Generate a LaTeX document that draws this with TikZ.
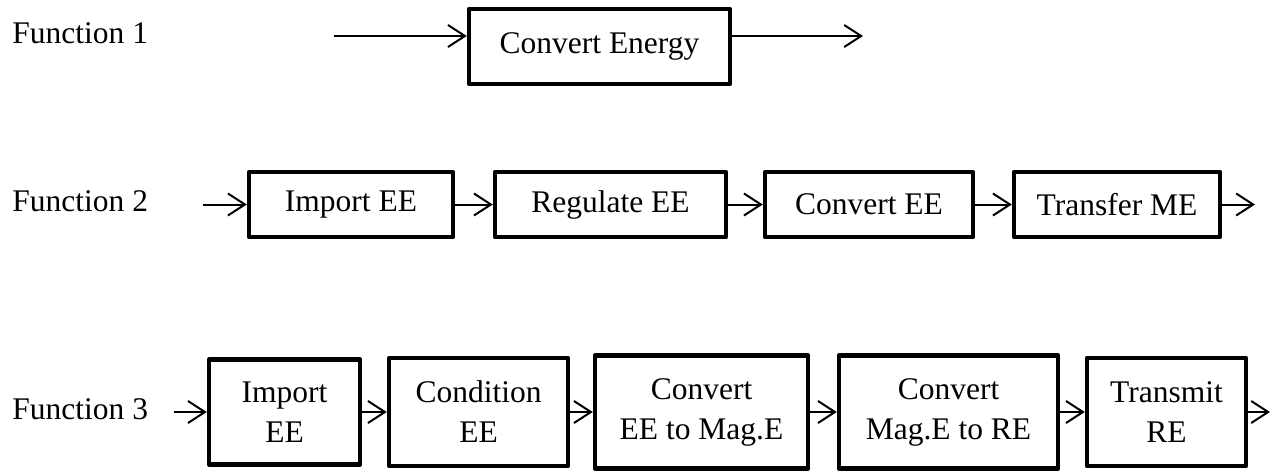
\documentclass[tikz,border=0pt]{standalone}
\usepackage{fontspec}
\setmainfont{Liberation Serif}
\usetikzlibrary{arrows.meta}

\begin{document}
\begin{tikzpicture}[x=0.5pt,y=-0.5pt,
  fbox/.style={draw,line width=2.2pt,line join=round,inner sep=0pt,align=center,
    font=\fontsize{15.75}{20}\selectfont},
  flow/.style={line width=1pt,-{Straight Barb[length=8.5pt,width=11pt,line width=1pt]}},
  flabel/.style={anchor=west,inner sep=0pt,font=\fontsize{15.75}{20}\selectfont}]
\useasboundingbox (0,0) rectangle (1272,472);

% Function 1
\node[flabel] (f1) at (12,33) {Function 1};
\node[fbox,minimum width=130.5pt,minimum height=37.5pt] (conv) at (599.5,46.5) {Convert Energy};
\coordinate (in1) at (334,36);
\coordinate (out1) at (863,36);
\draw[flow] (in1) -- (in1 -| conv.west);
\draw[flow] (conv.east |- out1) -- (out1);

% Function 2
\node[flabel] (f2) at (12,201) {Function 2};
\node[fbox,minimum width=102pt,minimum height=32.5pt] (imp2) at (351,204.5) {Import EE};
\node[fbox,minimum width=115.5pt,minimum height=32.5pt] (reg2) at (610.5,204.5) {Regulate EE};
\node[fbox,minimum width=104pt,minimum height=32.5pt] (conv2) at (869,204.5) {Convert EE};
\node[fbox,minimum width=103pt,minimum height=32.5pt] (trans2) at (1117,204.5) {Transfer ME};
\coordinate (in2) at (203,204.5);
\coordinate (out2) at (1255,204.5);
\draw[flow] (in2) -- (imp2.west);
\draw[flow] (imp2.east) -- (reg2.west);
\draw[flow] (reg2.east) -- (conv2.west);
\draw[flow] (conv2.east) -- (trans2.west);
\draw[flow] (trans2.east) -- (out2);

% Function 3
\node[flabel] (f3) at (12,409) {Function 3};
\node[fbox,minimum width=75.5pt,minimum height=52.5pt] (imp3) at (284.5,412) {Import\\EE};
\node[fbox,minimum width=89.5pt,minimum height=54pt] (cond3) at (478.5,412) {Condition\\EE};
\node[fbox,minimum width=106.5pt,minimum height=56.5pt] (mag3) at (701.5,412) {Convert\\EE to Mag.E};
\node[fbox,minimum width=109.5pt,minimum height=56.5pt] (re3) at (948.5,412) {Convert\\Mag.E to RE};
\node[fbox,minimum width=79.5pt,minimum height=54pt] (tx3) at (1166.5,412) {Transmit\\RE};
\coordinate (in3) at (174,412);
\coordinate (out3) at (1270,412);
\draw[flow] (in3) -- (imp3.west);
\draw[flow] (imp3.east) -- (cond3.west);
\draw[flow] (cond3.east) -- (mag3.west);
\draw[flow] (mag3.east) -- (re3.west);
\draw[flow] (re3.east) -- (tx3.west);
\draw[flow] (tx3.east) -- (out3);
\end{tikzpicture}
\end{document}
